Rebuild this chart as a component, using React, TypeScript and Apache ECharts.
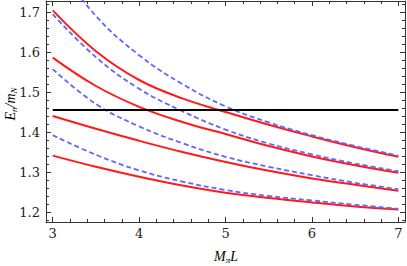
import React, { useEffect, useRef } from "react";
import * as echarts from "echarts";

const xs = [3, 3.5, 4, 4.5, 5, 5.5, 6, 6.5, 7];

const red1 = [1.704, 1.602, 1.530, 1.484, 1.450, 1.418, 1.389, 1.362, 1.338];
const red2 = [1.586, 1.515, 1.463, 1.425, 1.395, 1.365, 1.339, 1.317, 1.298];
const red3 = [1.440, 1.408, 1.378, 1.350, 1.325, 1.303, 1.284, 1.268, 1.253];
const red4 = [1.341, 1.313, 1.288, 1.266, 1.248, 1.235, 1.224, 1.214, 1.206];

const blue1 = [1.830, 1.690, 1.592, 1.520, 1.464, 1.424, 1.392, 1.365, 1.341];
const blue2 = [1.694, 1.587, 1.508, 1.452, 1.406, 1.371, 1.344, 1.321, 1.302];
const blue3 = [1.557, 1.470, 1.414, 1.372, 1.338, 1.313, 1.292, 1.273, 1.257];
const blue4 = [1.392, 1.343, 1.304, 1.276, 1.255, 1.240, 1.229, 1.218, 1.208];

const thresholdX = [3, 7];
const thresholdY = [1.455, 1.455];

const xMajor = [3, 4, 5, 6, 7];
const xMinor = [3.2, 3.4, 3.6, 3.8, 4.2, 4.4, 4.6, 4.8, 5.2, 5.4, 5.6, 5.8, 6.2, 6.4, 6.6, 6.8];
const yMajor = [1.2, 1.3, 1.4, 1.5, 1.6, 1.7];
const yMinor = [1.18, 1.22, 1.24, 1.26, 1.28, 1.32, 1.34, 1.36, 1.38, 1.42, 1.44, 1.46, 1.48, 1.52, 1.54, 1.56, 1.58, 1.62, 1.64, 1.66, 1.68, 1.72];

const X_MIN = 2.922;
const X_MAX = 7.077;
const Y_MIN = 1.175;
const Y_MAX = 1.7275;

const FRAME = "#333333";
const SERIF = "DejaVu Serif";
const SERIF2 = "Liberation Serif";
const RED = "#ff1a1a";
const BLUE = "#6464ff";

function pairs(x: number[], y: number[]) {
  return x.map((v, i) => [v, y[i]]);
}

export default function App() {
  const ref = useRef<HTMLDivElement>(null);
  useEffect(() => {
    if (!ref.current) return;
    const chart = echarts.init(ref.current, undefined, { renderer: "svg" });

    const xAxisBase = (position: string, values: number[], len: number, labels: boolean, line: boolean) => ({
      type: "value",
      gridIndex: 0,
      position,
      min: X_MIN,
      max: X_MAX,
      axisLine: { show: line, onZero: false, lineStyle: { color: FRAME, width: 1 } },
      axisTick: { show: true, inside: true, length: len, customValues: values, lineStyle: { color: FRAME, width: 1 } },
      axisLabel: labels
        ? { show: true, customValues: values, margin: 5, fontFamily: SERIF, fontSize: 13, color: "#222", formatter: (v: number) => String(Math.round(v)) }
        : { show: false },
      splitLine: { show: false },
    });
    const yAxisBase = (position: string, values: number[], len: number, labels: boolean, line: boolean) => ({
      type: "value",
      gridIndex: 0,
      position,
      min: Y_MIN,
      max: Y_MAX,
      axisLine: { show: line, onZero: false, lineStyle: { color: FRAME, width: 1 } },
      axisTick: { show: true, inside: true, length: len, customValues: values, lineStyle: { color: FRAME, width: 1 } },
      axisLabel: labels
        ? { show: true, customValues: values, margin: 6, fontFamily: SERIF, fontSize: 13, color: "#222", formatter: (v: number) => v.toFixed(1) }
        : { show: false },
      splitLine: { show: false },
    });

    const redSeries = [red1, red2, red3, red4].map((d, i) => ({
      type: "line",
      name: "red" + (i + 1),
      data: pairs(xs, d),
      smooth: 0.4,
      showSymbol: false,
      symbol: "none",
      clip: true,
      lineStyle: { color: RED, width: 2 },
      z: 3,
    }));
    const blueSeries = [blue1, blue2, blue3, blue4].map((d, i) => ({
      type: "line",
      name: "blue" + (i + 1),
      data: pairs(xs, d),
      smooth: 0.4,
      showSymbol: false,
      symbol: "none",
      clip: true,
      lineStyle: { color: BLUE, width: 1.8, type: [5, 3] },
      z: 4,
    }));

    const rich = {
      i: { fontFamily: SERIF2, fontStyle: "italic", fontSize: 14, color: "#222", lineHeight: 17 },
      s: { fontFamily: SERIF2, fontStyle: "italic", fontSize: 9, color: "#222", lineHeight: 17, verticalAlign: "bottom" },
    };

    chart.setOption({
      animation: false,
      textStyle: { fontFamily: SERIF },
      grid: { left: 46, right: 2, top: 1, bottom: 44, containLabel: false },
      xAxis: [
        xAxisBase("bottom", xMajor, 5, true, true),
        xAxisBase("bottom", xMinor, 3, false, false),
        xAxisBase("top", xMajor, 5, false, true),
        xAxisBase("top", xMinor, 3, false, false),
      ],
      yAxis: [
        yAxisBase("left", yMajor, 5, true, true),
        yAxisBase("left", yMinor, 3, false, false),
        yAxisBase("right", yMajor, 5, false, true),
        yAxisBase("right", yMinor, 3, false, false),
      ],
      series: [
        ...redSeries,
        ...blueSeries,
        {
          type: "line",
          name: "threshold",
          data: pairs(thresholdX, thresholdY),
          showSymbol: false,
          symbol: "none",
          lineStyle: { color: "#000", width: 2 },
          z: 5,
        },
      ],
      graphic: [
        {
          type: "text",
          x: 226,
          y: 256,
          style: { text: "{i|M}{s|π}{i|L}", fontFamily: SERIF2, align: "center", verticalAlign: "middle", rich },
        },
        {
          type: "text",
          x: 10,
          y: 104,
          rotation: Math.PI / 2,
          style: { text: "{i|E}{s|n}{i|/m}{s|N}", fontFamily: SERIF2, align: "center", verticalAlign: "middle", rich },
        },
      ],
    });
    return () => chart.dispose();
  }, []);
  return (
    <div
      ref={ref}
      style={{ position: "fixed", left: 0, top: 0, width: 407, height: 266, background: "#fff" }}
    />
  );
}
